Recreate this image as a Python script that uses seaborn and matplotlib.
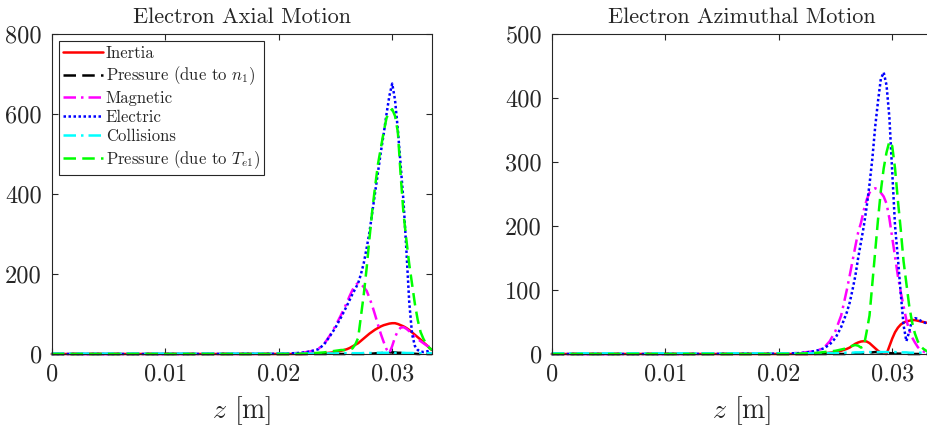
import numpy as np
import pandas as pd
import seaborn as sns
import matplotlib.pyplot as plt

# z grid [m] (shared by both panels)
z = [0, 0.01, 0.02, 0.021, 0.022, 0.0225, 0.023, 0.0235, 0.024, 0.0245, 0.025, 0.0255,
     0.026, 0.02625, 0.0265, 0.02675, 0.027, 0.02725, 0.0275, 0.02775, 0.028, 0.02825,
     0.0285, 0.02875, 0.029, 0.02925, 0.0295, 0.02975, 0.030, 0.03025, 0.0305, 0.03075,
     0.031, 0.03125, 0.0315, 0.03175, 0.032, 0.03225, 0.0325, 0.03275, 0.033, 0.03325, 0.0335]

# --- Electron axial motion ---
ax_inertia = [0, 0, 0, 0, 0, 0.5, 1, 1.5, 2, 3, 5, 8,
              12, 15, 19, 23, 27, 33, 39, 45, 51, 56,
              61, 65, 69, 72, 74, 76, 77, 77, 75, 72,
              69, 65, 60, 54, 48, 42, 36, 29, 23, 16, 10]
ax_press_n = [0, 0, 0, 0, 0, 0, 0, 0, 0, 0, 0, 0,
              0, 0, 0, 0, 0, 0, 0, 0.5, 1, 1,
              1.5, 2, 2, 3, 3, 4, 4, 4, 3, 3,
              2, 2, 1, 1, 0.5, 0, 0, 0, 0, 0, 0]
ax_magnetic = [0, 0, 0.5, 1.5, 3, 5, 8, 13, 25, 46, 70, 98,
               128, 145, 160, 172, 178, 175, 167, 158, 140, 120,
               97, 73, 50, 30, 12, 2, 20, 42, 58, 66,
               67, 63, 57, 50, 43, 37, 32, 27, 22, 18, 14]
ax_electric = [0, 0, 0.5, 1.5, 3, 5, 8, 12, 24, 44, 66, 92,
               120, 135, 150, 163, 177, 200, 228, 265, 305, 355,
               405, 455, 505, 550, 600, 645, 676, 635, 560, 470,
               380, 260, 130, 50, 20, 10, 6, 5, 6, 8, 12]
ax_collisions = [1, 1, 1, 1, 1, 1, 1, 1, 1.5, 1.5, 1.5, 2,
                 2, 2, 2, 2, 2, 2, 2.5, 2.5, 2.5, 2.5,
                 3, 3, 3, 3, 3, 3, 3, 3, 3, 3,
                 3, 2.5, 2.5, 2.5, 2, 2, 2, 2, 2, 2, 2]
ax_press_T = [0, 0, 0, 0, 0.5, 1, 2, 3, 4, 6, 8, 10,
              10, 11, 14, 24, 40, 95, 150, 215, 290, 360,
              420, 475, 515, 555, 590, 605, 612, 595, 555, 445,
              350, 285, 225, 175, 125, 85, 55, 38, 25, 16, 10]

# --- Electron azimuthal motion ---
az_inertia = [0, 0, 0, 0, 0, 0, 0, 0.5, 1, 2, 3, 5,
              8, 10, 13, 16, 18, 19.5, 20, 19.5, 17, 13,
              9, 5, 2, 0.5, 0, 12, 24, 34, 41, 46,
              49, 51, 52, 53, 53, 52, 51, 50, 49, 48, 47]
az_press_n = [0, 0, 0, 0, 0, 0, 0, 0, 0, 0, 0, 0,
              0, 0.5, 0.5, 1, 1, 1.5, 2, 2, 2.5, 2.5,
              3, 2.5, 2.5, 2, 2, 1.5, 1, 1, 0.5, 0.5,
              0, 0, 0, 0, 0, 0, 0, 0, 0, 0, 0]
az_magnetic = [0, 0, 0.5, 1, 2, 3, 4, 6, 10, 20, 36, 60,
               100, 122, 145, 168, 190, 205, 225, 241, 252, 257,
               259, 257, 252, 246, 235, 212, 182, 152, 122, 97,
               75, 53, 37, 26, 18, 11, 6, 4, 2, 1, 1]
az_electric = [0, 0, 0.5, 1, 1.5, 2.5, 4, 6, 9, 15, 25, 42,
               65, 80, 100, 122, 150, 175, 200, 230, 265, 305,
               355, 395, 430, 440, 420, 370, 285, 200, 150, 95,
               45, 20, 35, 53, 56, 55, 52, 50, 48, 47, 46]
az_collisions = [1, 1, 1, 1, 1, 1, 1, 1, 1.5, 1.5, 1.5, 2,
                 2, 2, 2, 2.5, 2.5, 2.5, 3, 3, 3, 3,
                 3, 3, 3, 3, 3, 3, 3, 3, 2.5, 2.5,
                 2.5, 2.5, 2, 2, 2, 2, 2, 2, 2, 2, 2]
az_press_T = [0, 0, 0, 0, 0.5, 1, 1.5, 2, 3, 4, 5, 7,
              9, 11, 13, 14, 13, 10, 12, 35, 60, 110,
              160, 210, 255, 290, 315, 332, 325, 290, 240, 195,
              145, 110, 75, 50, 32, 20, 12, 8, 5, 3, 2]

labels = ["Inertia", "Pressure (due to $n_1$)", "Magnetic", "Electric",
          "Collisions", "Pressure (due to $T_{e1}$)"]
colors = ["red", "black", "magenta", "blue", "cyan", (0, 1, 0)]
styles = ["-", (0, (5, 2.5)), (0, (5, 2, 1, 2)), (0, (1, 1)), (0, (5, 2, 1, 2)), (0, (5, 2.5))]

titles = ["Electron Axial Motion", "Electron Azimuthal Motion"]
x_ticks = [0, 0.01, 0.02, 0.03]
x_ticklabels = ["0", "0.01", "0.02", "0.03"]
y_ticks = [[0, 200, 400, 600, 800], [0, 100, 200, 300, 400, 500]]

sns.set_style("white")
plt.rcParams['font.family'] = ['cmr10', 'DejaVu Serif']
plt.rcParams['mathtext.fontset'] = 'cm'
plt.rcParams['axes.formatter.use_mathtext'] = True

fig = plt.figure(figsize=(9.28, 4.28), dpi=100)
ax1 = fig.add_axes([0.0557, 0.1729, 0.4101, 0.7477])
ax2 = fig.add_axes([0.5945, 0.1729, 0.4101, 0.7477])

panels = [
    (ax1, [ax_inertia, ax_press_n, ax_magnetic, ax_electric, ax_collisions, ax_press_T]),
    (ax2, [az_inertia, az_press_n, az_magnetic, az_electric, az_collisions, az_press_T]),
]

for i, (ax, series) in enumerate(panels):
    for vals, lab, col, ls in zip(series, labels, colors, styles):
        df = pd.DataFrame({"z": z, "v": vals})
        sns.lineplot(data=df, x="z", y="v", ax=ax, color=col, linestyle=ls,
                     linewidth=1.8, label=lab, clip_on=False)
    ax.set_xlim(0, 0.03353)
    ax.set_ylim(0, y_ticks[i][-1])
    ax.set_xticks(x_ticks)
    ax.set_xticklabels(x_ticklabels)
    ax.set_yticks(y_ticks[i])
    ax.set_yticklabels([str(t) for t in y_ticks[i]])
    ax.tick_params(direction="in", length=4, width=0.8, colors="0.15",
                   labelsize=17.5, labelcolor="0.15", top=True, right=(i == 0),
                   bottom=True, left=True, pad=7)
    for sp in ax.spines.values():
        sp.set_color("0.15")
        sp.set_linewidth(0.8)
    ax.set_title(titles[i], fontsize=16, pad=8)
    ax.set_xlabel("$z$ [m]", fontsize=20, labelpad=6)
    ax.set_ylabel("")
    if i == 0:
        leg = ax.legend(loc="upper left", fontsize=12, frameon=True, fancybox=False,
                        framealpha=1, edgecolor="0.15", handlelength=2.4,
                        handletextpad=0.15, borderpad=0.25, labelspacing=0.22,
                        borderaxespad=0.45)
        leg.get_frame().set_linewidth(0.8)
    else:
        ax.get_legend().remove()

fig.savefig("out.png", dpi=100)
